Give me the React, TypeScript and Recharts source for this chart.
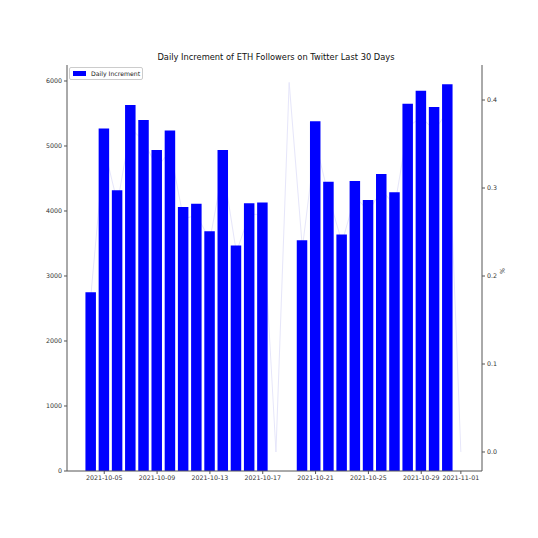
import React from "react";
import { ComposedChart, Bar, Line, XAxis, YAxis, Label } from "recharts";

// day index: day of October 2021 (32 = 2021-11-01)
const days = [4,5,6,7,8,9,10,11,12,13,14,15,16,17,18,19,20,21,22,23,24,25,26,27,28,29,30,31,32];
const increments: (number | null)[] = [
  2750, 5270, 4320, 5630, 5400, 4940, 5240, 4060, 4110, 3690, 4940, 3470, 4120, 4130,
  null, null,
  3550, 5380, 4450, 3640, 4460, 4170, 4570, 4290, 5650, 5850, 5600, 5950,
  null,
];
const percents = [
  0.18, 0.345, 0.283, 0.368, 0.353, 0.323, 0.343, 0.265, 0.269, 0.241, 0.323, 0.227, 0.27, 0.27,
  0.0, 0.42,
  0.232, 0.352, 0.29, 0.238, 0.291, 0.273, 0.298, 0.28, 0.369, 0.381, 0.365, 0.388,
  0.0,
];
const xTicks = [5, 9, 13, 17, 21, 25, 29, 32];
const xTickLabels: Record<number, string> = {
  5: "2021-10-05", 9: "2021-10-09", 13: "2021-10-13", 17: "2021-10-17",
  21: "2021-10-21", 25: "2021-10-25", 29: "2021-10-29", 32: "2021-11-01",
};
const leftTicks = [0, 1000, 2000, 3000, 4000, 5000, 6000];
const rightTicks = [0.0, 0.1, 0.2, 0.3, 0.4];

const data = days.map((d, i) => ({ day: d, inc: increments[i], pct: percents[i] }));

const FONT = "DejaVu Sans";
const tickStyle = { fontSize: 6.3, fill: "#333", fontFamily: FONT };
const axisColor = "#555";

const LegendBox = () => (
  <div
    style={{
      position: "absolute",
      left: 69,
      top: 67,
      width: 74,
      height: 13,
      border: "1px solid #ccc",
      borderRadius: 2,
      background: "#fff",
      boxSizing: "border-box",
      display: "flex",
      alignItems: "center",
      fontFamily: FONT,
      fontSize: 6.2,
      color: "#222",
      whiteSpace: "nowrap",
    }}
  >
    <span style={{ display: "inline-block", width: 13, height: 5, background: "#0000ff", marginLeft: 3, marginRight: 5 }} />
    <span>Daily Increment</span>
  </div>
);

export default function App() {
  return (
    <div style={{ position: "absolute", left: 0, top: 0, width: 538, height: 538, background: "#fff" }}>
      <div
        style={{
          position: "absolute",
          left: 0,
          width: 538,
          top: 52,
          textAlign: "center",
          fontFamily: FONT,
          fontSize: 8.3,
          color: "#111",
          paddingLeft: 14,
          boxSizing: "border-box",
        }}
      >
        Daily Increment of ETH Followers on Twitter Last 30 Days
      </div>
      <ComposedChart
        width={538}
        height={538}
        data={data}
        margin={{ top: 65, left: 27, right: 26, bottom: 47 }}
      >
        <XAxis
          dataKey="day"
          type="number"
          domain={[2.18, 33.6]}
          ticks={xTicks}
          tickFormatter={(v: number) => xTickLabels[v] ?? ""}
          tick={tickStyle}
          tickSize={3}
          height={20}
          stroke={axisColor}
          interval={0}
          allowDataOverflow
        />
        <XAxis xAxisId="top" orientation="top" dataKey="day" type="number" domain={[2.18, 33.6]} tick={false} tickLine={false} height={0} stroke={axisColor} />
        <YAxis
          yAxisId="left"
          domain={[0, 6246]}
          ticks={leftTicks}
          tick={tickStyle}
          tickSize={3}
          width={40}
          stroke={axisColor}
          allowDataOverflow
        />
        <YAxis
          yAxisId="right"
          orientation="right"
          domain={[-0.0216, 0.4398]}
          ticks={rightTicks}
          tickFormatter={(v: number) => v.toFixed(1)}
          tick={tickStyle}
          tickSize={3}
          width={30}
          stroke={axisColor}
          allowDataOverflow
        >
          <Label value="%" angle={90} position="right" offset={-10} style={{ fontSize: 6.3, fill: "#333", fontFamily: FONT }} />
        </YAxis>
        <Line
          yAxisId="right"
          dataKey="pct"
          stroke="#e6e6fa"
          strokeWidth={1}
          dot={false}
          isAnimationActive={false}
          zIndex={250}
        />
        <Bar yAxisId="left" dataKey="inc" fill="#0000ff" barSize={10.5} isAnimationActive={false} />
      </ComposedChart>
      <LegendBox />
    </div>
  );
}
